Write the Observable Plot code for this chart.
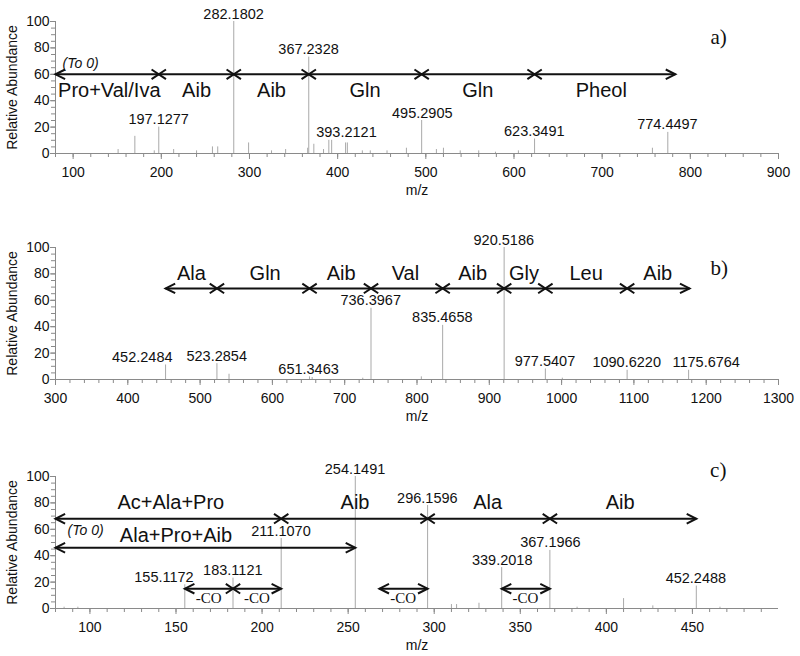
<!DOCTYPE html>
<html><head><meta charset="utf-8">
<script src="https://cdn.jsdelivr.net/npm/d3@7"></script>
<script src="https://cdn.jsdelivr.net/npm/@observablehq/plot@0.6"></script>
<style>
body{margin:0;background:#fff;}
#chart svg{display:block;}
</style></head><body><div id="chart"></div>
<script>
// ---------- Panel a ----------
const aDomain = [80, 900];
const aXTicks = [100, 200, 300, 400, 500, 600, 700, 800, 900];
const aPeakMz = [197.1277, 282.1802, 367.2328, 393.2121, 495.2905, 623.3491, 774.4497];
const aPeakInt = [20, 100, 73, 10, 25, 11, 16];
const aPeakText = ["197.1277", "282.1802", "367.2328", "393.2121", "495.2905", "623.3491", "774.4497"];
const aPeakLabelMz = [197, 282, 367, 410, 496, 623, 774];
const aMinorMz = [151, 170, 192, 214, 240, 258, 264, 299, 325, 341, 366, 373, 384, 390, 409, 411, 428, 437, 456, 478, 512, 520, 539, 560, 579, 605, 757];
const aMinorInt = [3, 13, 2, 3, 2, 5, 5, 8, 2, 3, 4, 7, 3, 10, 8, 8, 2, 2, 2, 4, 3, 4, 2, 2, 1, 2, 4];
const aLines = [{from: 80, to: 783, y: 60, left: true, right: true}];
const aCross = [197.13, 282.18, 367.23, 495.29, 623.35];
const aSegText = ["Pro+Val/Iva", "Aib", "Aib", "Gln", "Gln", "Pheol"];
const aSegMz = [141, 240, 325, 431, 559, 699];
const aSegY = 48;

// ---------- Panel b ----------
const bDomain = [300, 1300];
const bXTicks = [300, 400, 500, 600, 700, 800, 900, 1000, 1100, 1200, 1300];
const bPeakMz = [452.2484, 523.2854, 651.3463, 736.3967, 835.4658, 920.5186, 977.5407, 1090.6220, 1175.6764];
const bPeakInt = [11, 12, 2, 54, 41, 100, 8, 7, 7];
const bPeakText = ["452.2484", "523.2854", "651.3463", "736.3967", "835.4658", "920.5186", "977.5407", "1090.6220", "1175.6764"];
const bPeakLabelMz = [420, 523, 650, 736, 835, 920, 977, 1090, 1200];
const bMinorMz = [540, 655, 725, 806, 1001];
const bMinorInt = [4, 1.5, 1, 2, 1];
const bLines = [{from: 452.25, to: 1177, y: 69, left: true, right: true}];
const bCross = [523.29, 651.35, 736.40, 835.47, 920.52, 977.54, 1090.62];
const bSegText = ["Ala", "Gln", "Aib", "Val", "Aib", "Gly", "Leu", "Aib"];
const bSegMz = [488, 590, 695, 784, 877, 948, 1034, 1133];
const bSegY = 80;

// ---------- Panel c ----------
const cDomain = [80, 500];
const cXTicks = [100, 150, 200, 250, 300, 350, 400, 450];
const cPeakMz = [155.1172, 183.1121, 211.1070, 254.1491, 296.1596, 339.2018, 367.1966, 452.2488];
const cPeakInt = [18, 23, 53, 100, 78, 31, 44, 17];
const cPeakText = ["155.1172", "183.1121", "211.1070", "254.1491", "296.1596", "339.2018", "367.1966", "452.2488"];
const cPeakLabelMz = [143, 183, 211, 254, 296, 339.5, 367.5, 452];
const cMinorMz = [85, 93, 310, 313, 326, 383, 410, 427, 466];
const cMinorInt = [1, 1, 3, 3, 4, 1, 7.5, 2, 1];
const cLines = [
  {from: 80, to: 452.25, y: 68, left: true, right: true},
  {from: 80, to: 254.15, y: 46, left: true, right: true},
  {from: 155.12, to: 211.11, y: 15, left: true, right: true},
  {from: 268.16, to: 296.16, y: 15, left: true, right: true},
  {from: 339.20, to: 367.20, y: 15, left: true, right: true}
];
const cCross = [211.11, 296.16, 367.20];
const cSmallCross = [183.11];
const cSegText = ["Ac+Ala+Pro", "Aib", "Ala", "Aib", "Ala+Pro+Aib"];
const cSegMz = [147, 254, 331, 408, 150];
const cSegYs = [80, 80, 80, 80, 55];
const cCOText = ["-CO", "-CO", "-CO", "-CO"];
const cCOMz = [169, 197, 282, 353];
const cCOY = 7.5;

// ---------- helpers ----------
const SANS = "'Liberation Sans', Arial, Helvetica, sans-serif";
const SERIF = "'Liberation Serif', 'Times New Roman', serif";
const AXIS = "#8a8a8a";
const PEAK = "#a9a9a9";
const INK = "#111";

function chevron(dir) {
  return {draw(ctx, size) {
    const r = Math.sqrt(size / Math.PI);
    ctx.moveTo(-dir * 2 * r, -r); ctx.lineTo(0, 0); ctx.lineTo(-dir * 2 * r, r);
  }};
}
const crossSym = {draw(ctx, size) {
  const r = Math.sqrt(size / Math.PI);
  ctx.moveTo(-1.5 * r, -r); ctx.lineTo(1.5 * r, r);
  ctx.moveTo(-1.5 * r, r); ctx.lineTo(1.5 * r, -r);
}};

function panel(cfg) {
  const peaks = cfg.peakMz.map((m, i) => ({mz: m, h: cfg.peakInt[i], t: cfg.peakText[i], lx: cfg.labelMz[i]}));
  const minors = cfg.minorMz.map((m, i) => ({mz: m, h: cfg.minorInt[i]}));
  const lefts = cfg.lines.filter(d => d.left).map(d => ({x: d.from, y: d.y}));
  const rights = cfg.lines.filter(d => d.right).map(d => ({x: d.to, y: d.y}));
  const crosses = cfg.crosses;
  const segs = cfg.segText.map((t, i) => ({t, x: cfg.segMz[i], y: cfg.segY[i]}));
  const marks = [
    Plot.ruleY([0], {stroke: AXIS}),
    Plot.ruleX([cfg.domain[0]], {y1: 0, y2: 100, stroke: AXIS}),
    Plot.axisX({ticks: d3.range(cfg.domain[0], cfg.minorEnd + 1, cfg.minorStep), tickSize: 4, stroke: AXIS, fill: "none", label: null}),
    Plot.axisX({ticks: cfg.xTicks, tickSize: 6, tickPadding: 8, tickFormat: d => String(d), stroke: AXIS, fill: INK, fontSize: 14, label: null}),
    Plot.axisY({ticks: d3.range(0, 101, 5), tickSize: 4, stroke: AXIS, fill: "none", label: null}),
    Plot.axisY({ticks: [0, 20, 40, 60, 80, 100], tickSize: 5, tickPadding: 1, tickFormat: d => String(d), stroke: AXIS, fill: INK, fontSize: 14, label: null}),
    Plot.ruleX(minors, {x: "mz", y1: 0, y2: "h", stroke: PEAK}),
    Plot.ruleX(peaks, {x: "mz", y1: 0, y2: "h", stroke: PEAK}),
    Plot.text(peaks, {x: "lx", y: "h", text: "t", dy: -3, lineAnchor: "bottom", fontSize: 14.5, fill: INK}),
    Plot.link(cfg.lines, {x1: "from", x2: "to", y1: "y", y2: "y", stroke: INK, strokeWidth: 2}),
    Plot.dot(lefts, {x: "x", y: "y", symbol: chevron(-1), r: 4.8, fill: "none", stroke: INK, strokeWidth: 2}),
    Plot.dot(rights, {x: "x", y: "y", symbol: chevron(1), r: 4.8, fill: "none", stroke: INK, strokeWidth: 2}),
    Plot.dot(crosses, {x: d => d.x, y: d => d.y, symbol: crossSym, r: 4.8, fill: "none", stroke: INK, strokeWidth: 2}),
    Plot.text(segs, {x: "x", y: "y", text: "t", fontSize: 20, fill: INK}),
    Plot.text(["Relative Abundance"], {frameAnchor: "left", textAnchor: "middle", text: d => d, rotate: -90, dx: -43, fontSize: 14, fill: INK}),
    Plot.text(["m/z"], {frameAnchor: "bottom", textAnchor: "middle", text: d => d, dy: 41, fontSize: 14, fill: INK}),
    Plot.text([cfg.tag], {x: () => cfg.tagPos[0], y: () => cfg.tagPos[1], text: d => d, fontFamily: SERIF, fontSize: 21, fill: INK})
  ];
  if (cfg.extra) marks.push(...cfg.extra);
  return Plot.plot({
    width: 800, height: cfg.height,
    marginLeft: 55, marginRight: 22, marginTop: cfg.marginTop, marginBottom: cfg.marginBottom,
    x: {domain: cfg.domain},
    y: {domain: [0, 100]},
    style: {fontFamily: SANS, fontSize: "14px", background: "white", color: INK},
    marks
  });
}

const toCross = (arr, y) => arr.map(x => ({x, y}));

const chart = document.getElementById("chart");
chart.append(panel({
  domain: aDomain, xTicks: aXTicks, minorStep: 20, minorEnd: 900,
  peakMz: aPeakMz, peakInt: aPeakInt, peakText: aPeakText, labelMz: aPeakLabelMz,
  minorMz: aMinorMz, minorInt: aMinorInt,
  lines: aLines, crosses: toCross(aCross, 60),
  segText: aSegText, segMz: aSegMz, segY: aSegText.map(() => aSegY),
  tag: "a)", tagPos: [832, 88],
  height: 210, marginTop: 21, marginBottom: 57,
  extra: [Plot.text(["(To 0)"], {x: () => 88, y: () => 68, text: d => d, textAnchor: "start", fontStyle: "italic", fontSize: 14, fill: INK})]
}));
chart.append(panel({
  domain: bDomain, xTicks: bXTicks, minorStep: 20, minorEnd: 1300,
  peakMz: bPeakMz, peakInt: bPeakInt, peakText: bPeakText, labelMz: bPeakLabelMz,
  minorMz: bMinorMz, minorInt: bMinorInt,
  lines: bLines, crosses: toCross(bCross, 69),
  segText: bSegText, segMz: bSegMz, segY: bSegText.map(() => bSegY),
  tag: "b)", tagPos: [1218, 84],
  height: 220, marginTop: 37, marginBottom: 51
}));
chart.append(panel({
  domain: cDomain, xTicks: cXTicks, minorStep: 10, minorEnd: 490,
  peakMz: cPeakMz, peakInt: cPeakInt, peakText: cPeakText, labelMz: cPeakLabelMz,
  minorMz: cMinorMz, minorInt: cMinorInt,
  lines: cLines, crosses: toCross(cCross, 68).concat(toCross(cSmallCross, 15)),
  segText: cSegText, segMz: cSegMz, segY: cSegYs,
  tag: "c)", tagPos: [465, 104.5],
  height: 226, marginTop: 46, marginBottom: 48,
  extra: [
    Plot.text(["(To 0)"], {x: () => 87, y: () => 59, text: d => d, textAnchor: "start", fontStyle: "italic", fontSize: 14, fill: INK}),
    Plot.text(cCOText, {x: (d, i) => cCOMz[i], y: () => cCOY, text: d => d, fontFamily: SERIF, fontSize: 15, fill: INK})
  ]
}));
</script></body></html>
